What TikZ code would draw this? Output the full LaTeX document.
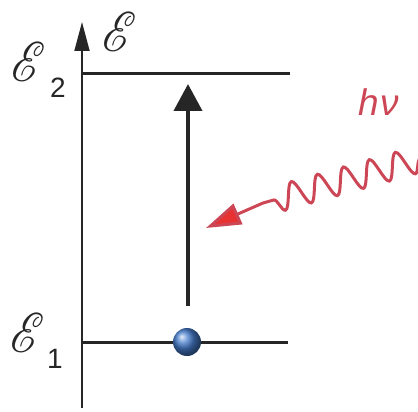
\documentclass[tikz,border=0pt]{standalone}
\usepackage{fontspec}
\usepackage{mathrsfs}
\usepackage{graphicx}
\setsansfont{Liberation Sans}
\usetikzlibrary{arrows.meta,decorations.pathmorphing}
\definecolor{wavered}{RGB}{205,70,85}
\definecolor{tipred}{RGB}{232,50,50}
\definecolor{ballblue}{RGB}{70,125,205}
\newcommand{\bigE}{\scalebox{4.6}[5.6]{$\mathscr{E}$}}
\tikzset{
  level/.style={line width=3pt,draw=black!85},
  axis/.style={line width=1.8pt,draw=black!85,-{Triangle[length=29pt,width=15pt]}},
  excite/.style={line width=4pt,draw=black!85,-{Triangle[length=27pt,width=28pt]}},
  lbl/.style={inner sep=0pt,text=black!85},
  sublbl/.style={inner sep=0pt,text=black!85,font=\sffamily\fontsize{28}{28}\selectfont},
  photon/.style={line width=3pt,draw=wavered,line cap=round,decorate,decoration={snake,amplitude=13pt,segment length=27pt}},
}
\begin{document}
\begin{tikzpicture}[x=1pt,y=-1pt]
\useasboundingbox (0,0) rectangle (418,412);
% axis
\coordinate (axb) at (82,408);
\coordinate (axt) at (82,22);
\draw[axis] (axb) -- (axt);
% levels
\coordinate (e2a) at (82,74);
\coordinate (e2b) at (290,74);
\coordinate (e1a) at (82,342);
\coordinate (e1b) at (288,342);
\draw[level] (e2a) -- (e2b);
\draw[level] (e1a) -- (e1b);
% excitation arrow
\coordinate (exb) at (188,306);
\coordinate (ext) at (188,84);
\draw[excite] (exb) -- (ext);
% ball
\node[circle,minimum size=28pt,inner sep=0pt,shading=ball,ball color=ballblue] (ball) at (187,342) {};
% labels
\node[lbl] (E) at (120,32) {\bigE};
\node[lbl] (E2) at (29,62) {\bigE};
\node[sublbl] (s2) at (58,88) {2};
\node[lbl] (E1) at (28,333) {\bigE};
\node[sublbl] (s1) at (55,359) {1};
\node[inner sep=0pt,text=wavered,font=\sffamily\itshape\fontsize{37}{37}\selectfont] (hv) at (379,102) {h\kern1ptν};
% photon
\coordinate (w0) at (420,159);
\coordinate (w1) at (263,203);
\coordinate (tip) at (206,228);
\draw[photon] (w0) -- (w1);
\draw[line width=3pt,draw=wavered,-{Triangle[length=35pt,width=22pt,fill=tipred]}] (w1) -- (tip);
\end{tikzpicture}
\end{document}
